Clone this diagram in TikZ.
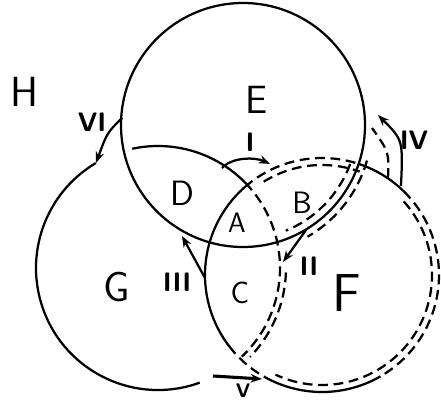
\documentclass[tikz,border=0pt]{standalone}
\usetikzlibrary{arrows.meta}
\begin{document}
\begin{tikzpicture}[x=0.025cm, y=-0.025cm, >={Stealth[length=8pt,width=6pt]}, line width=1.6pt,
    brk/.style={dash pattern=on 7pt off 4pt},
    lbl/.style={font=\sffamily\fontsize{#1}{#1}\selectfont, inner sep=0pt},
    num/.style={font=\sffamily\bfseries\fontsize{#1}{#1}\selectfont, inner sep=0pt},
    mv/.style={->, line width=1.6pt}]
  \useasboundingbox (0,0) rectangle (441,400);
  \coordinate (cE) at (243,125);
  \coordinate (cG) at (158,268);
  \coordinate (cF) at (322,275);
  % circle E
  \draw (cE) circle[radius=122];
  % circle G
  \draw ([shift={(70:122)}]cG) arc[start angle=70, end angle=239.4, radius=122];
  \draw ([shift={(257.8:122)}]cG) arc[start angle=257.8, end angle=315.7, radius=122];
  \draw[brk] ([shift={(-44.3:122)}]cG) arc[start angle=-44.3, end angle=46.6, radius=122];
  \draw[brk] ([shift={(2:128)}]cG) arc[start angle=2, end angle=44, radius=128];
  % circle F
  \draw ([shift={(138:117)}]cF) arc[start angle=138, end angle=228.7, radius=117];
  \draw[brk] ([shift={(228.7:117)}]cF) arc[start angle=228.7, end angle=288.6, radius=117];
  \draw ([shift={(288.6:117)}]cF) arc[start angle=288.6, end angle=314.3, radius=117];
  \draw[brk] ([shift={(314.3:117)}]cF) arc[start angle=314.3, end angle=420, radius=117];
  \draw ([shift={(60:117)}]cF) arc[start angle=60, end angle=115, radius=117];
  \draw[brk] ([shift={(115:117)}]cF) arc[start angle=115, end angle=138, radius=117];
  % dashed path
  \draw[brk] ([shift={(238:110)}]cF) arc[start angle=238, end angle=290, radius=110];
  \draw[brk] ([shift={(318:110)}]cF) arc[start angle=318, end angle=475, radius=110];
  \draw[brk] ([shift={(20:114)}]cE) arc[start angle=20, end angle=68, radius=114];
  \draw[brk] ([shift={(16:129)}]cE) arc[start angle=16, end angle=60, radius=129];
  \draw[brk] (388,178) .. controls (389,152) .. (372,128);
  % region labels
  \foreach \nm/\px/\py/\sz in {H/24/92/30, E/257/100/28, D/182/193/25, A/237/223/20,
      B/302/203/22, C/240/293/22, F/347/293/38, G/117/287/30}
    \node[lbl=\sz] (l\nm) at (\px,\py) {\nm};
  % step labels
  \foreach \nm/\txt/\px/\py in {n1/I/250/142, n2/II/309/266, n3/III/177/282,
      n4/IV/414/140, n6/VI/92/122}
    \node[num=19] (\nm) at (\px,\py) {\txt};
  \node[num=14] (n5) at (243,391) {V};
  % steps
  \coordinate (a1) at (222,168); \coordinate (b1) at (270,164);
  \coordinate (a2) at (306,230); \coordinate (b2) at (283,262);
  \coordinate (a3) at (205,278); \coordinate (b3) at (182,236);
  \coordinate (a4) at (401,186); \coordinate (b4) at (378,115);
  \coordinate (a5) at (213,376); \coordinate (b5) at (262,379);
  \coordinate (a6) at (122,118); \coordinate (b6) at (96,163);
  \draw[mv] (a1) .. controls (232,157) and (255,157) .. (b1);
  \draw[mv] (a2) -- (b2);
  \draw[mv] (a3) -- (b3);
  \draw[mv] (a4) .. controls (403,140) .. (b4);
  \draw[mv, line width=2.2pt] (a5) -- (b5);
  \draw[mv] (a6) .. controls (107,133) .. (b6);
\end{tikzpicture}
\end{document}
